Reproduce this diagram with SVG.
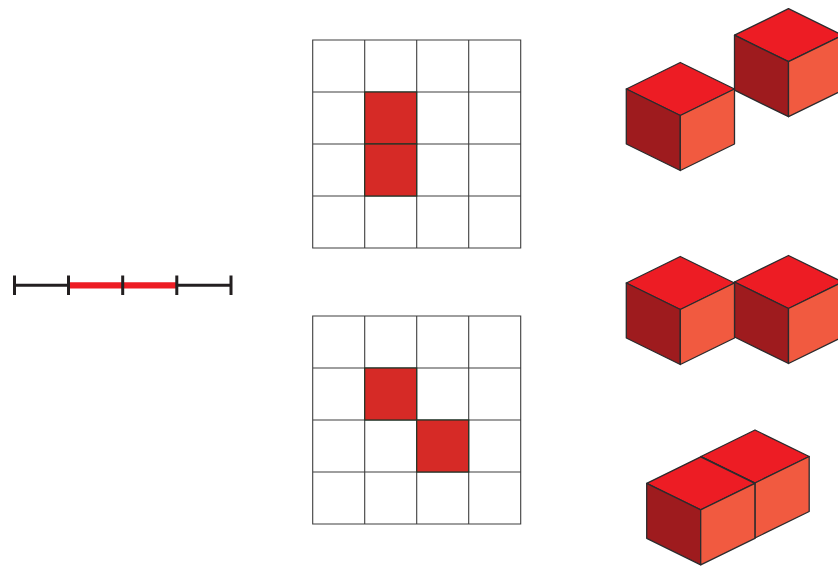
<svg xmlns="http://www.w3.org/2000/svg" width="838" height="567" viewBox="0 0 838 567">
<style>
.g{fill:none;stroke:#3f3f3f;stroke-width:1.1}
.c{fill:#d62a26;stroke:#1f3526;stroke-width:1.2}
.t{fill:#ed1c24}.l{fill:#9e1b1e}.r{fill:#f15a40}
.f{stroke:#2b2b2d;stroke-width:1.3;stroke-linejoin:round}
.k{stroke:#231f20;fill:none}
</style>
<defs>
<path id="grid" class="g" d="M312.7 0H520.7V208H312.7ZM364.7 0V208M416.7 0V208M468.7 0V208M312.7 52H520.7M312.7 104H520.7M312.7 156H520.7"/>
<g id="cube">
<path class="f t" d="M0 26.5L54-0 108.2 26.5 54 53Z"/>
<path class="f l" d="M0 26.5L54 53V108L0 81.5Z"/>
<path class="f r" d="M54 53L108.2 26.5V81.5L54 108Z"/>
</g>
</defs>
<rect width="838" height="567" fill="#fff"/>
<g id="number-line">
<path class="k" stroke-width="3" d="M14.5 285.3H68.5M176.8 285.3H231"/>
<path d="M68.5 285.3H176.8" stroke="#ed1c24" stroke-width="6.2" fill="none"/>
<path class="k" stroke-width="3" d="M14.5 275.5V295M68.5 275.5V295M122.7 275.5V295M176.8 275.5V295M231 275.5V295"/>
</g>
<g id="grid-top">
<use href="#grid" y="40"/>
<rect class="c" x="364.7" y="92" width="52" height="52"/>
<rect class="c" x="364.7" y="144" width="52" height="52"/>
</g>
<g id="grid-bottom">
<use href="#grid" y="316"/>
<rect class="c" x="364.7" y="368" width="52" height="52"/>
<rect class="c" x="416.7" y="420" width="52" height="52"/>
</g>
<g id="cubes-diagonal">
<use href="#cube" x="734.5" y="8.7"/>
<use href="#cube" x="626.3" y="62.5"/>
</g>
<g id="cubes-side">
<use href="#cube" x="734.5" y="255.5"/>
<use href="#cube" x="626.3" y="256.5"/>
</g>
<g id="cubes-stacked">
<use href="#cube" x="701" y="430"/>
<use href="#cube" x="646.7" y="456.8"/>
</g>
</svg>
